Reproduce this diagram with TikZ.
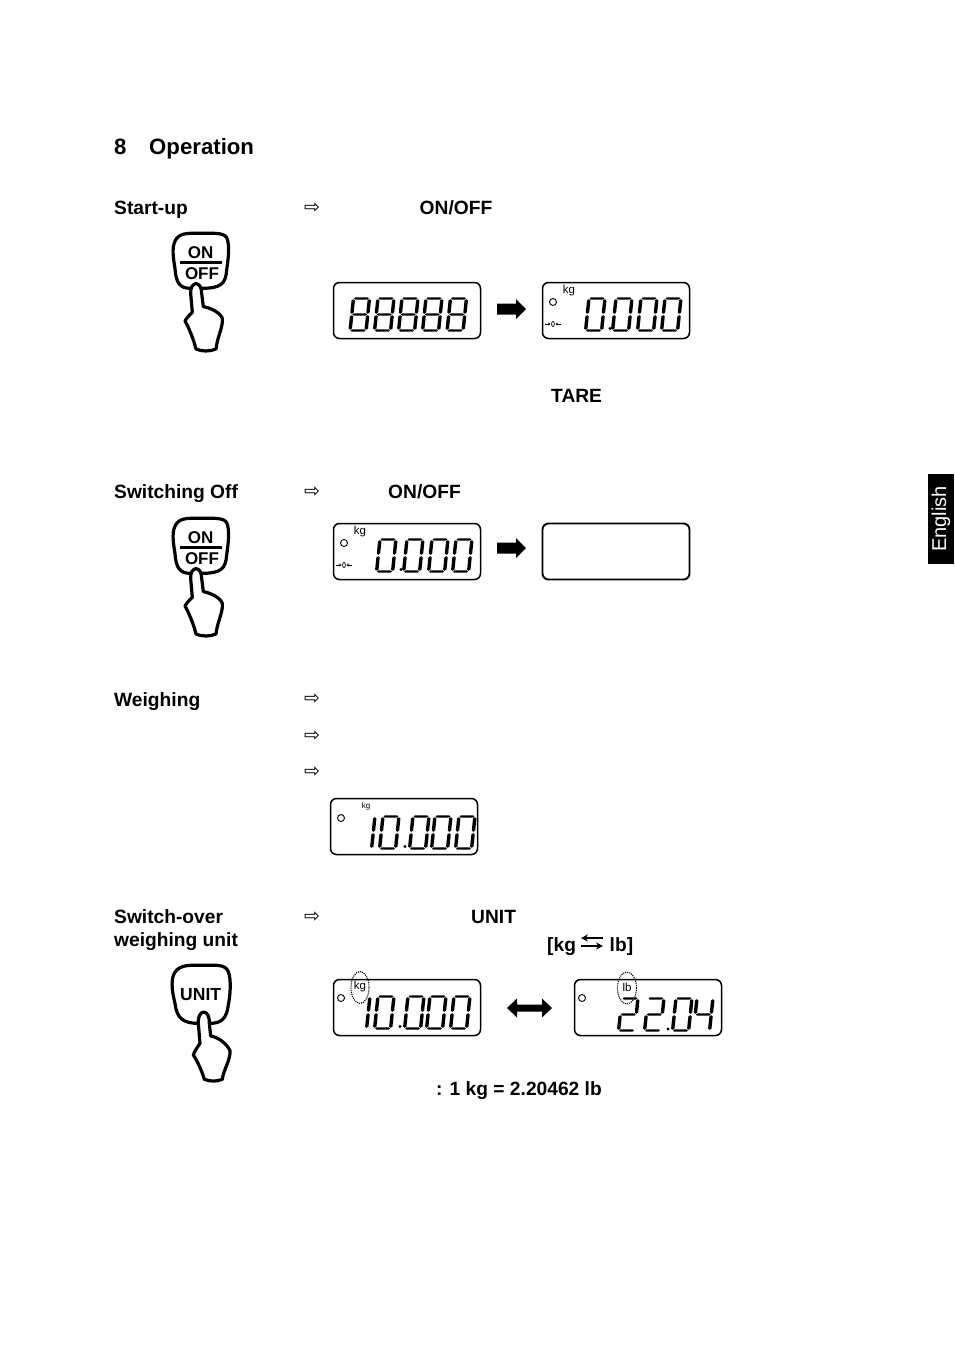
\documentclass[tikz,border=0pt]{standalone}
\usepackage{fontspec}
\setmainfont{Liberation Sans}
\newfontfamily\dejavu{DejaVu Sans}
\usetikzlibrary{shapes.geometric,arrows.meta}
\tikzset{
  x=1pt,y=-1pt,
  lab/.style={anchor=base west,inner sep=0,font=\bfseries\fontsize{19.2}{23}\selectfont},
  head/.style={anchor=base west,inner sep=0,font=\bfseries\fontsize{22.2}{27}\selectfont},
  hollow/.style={anchor=center,inner sep=0,font=\dejavu\fontsize{19}{19}\selectfont},
  lcd/.style={draw=black,line width=1.5pt,rounded corners=6pt,anchor=north west,inner sep=0,outer sep=0,minimum width=147pt,minimum height=56pt},
  unitlab/.style={inner sep=0,font=\fontsize{11.5}{12}\selectfont},
  lamp/.style={draw=black,line width=.9pt,circle,inner sep=0,minimum size=7pt},
  btn/.style={draw=black,line width=3.2pt,line join=round,fill=white},
  keytxt/.style={inner sep=0,font=\bfseries\fontsize{17}{17}\selectfont},
  ring/.style={draw=black,line width=1.1pt,densely dotted,ellipse}
}
\newcommand\vsg[3]{\fill (#1-1.7,#2+1.3)--(#1,#2)--(#1+1.7,#2+1.3)--(#1+1.7,#3-1.3)--(#1,#3)--(#1-1.7,#3-1.3)--cycle;}
\newcommand\hsg[3]{\fill (#2+1.3,#1-1.2)--(#3-1.3,#1-1.2)--(#3,#1)--(#3-1.3,#1+1.2)--(#2+1.3,#1+1.2)--(#2,#1)--cycle;}
\def\sgA{\hsg{0.5}{0.6}{15.4}}
\def\sgB{\vsg{16}{1.2}{15.8}}
\def\sgC{\vsg{16}{17.2}{31.8}}
\def\sgD{\hsg{32.5}{0.6}{15.4}}
\def\sgE{\vsg{0}{17.2}{31.8}}
\def\sgF{\vsg{0}{1.2}{15.8}}
\def\sgG{\hsg{16.5}{0.6}{15.4}}
\def\dZero{\sgA\sgB\sgC\sgD\sgE\sgF}
\def\dEight{\dZero\sgG}
\def\dOne{\sgB\sgC}
\def\dTwo{\sgA\sgB\sgG\sgE\sgD}
\def\dFour{\sgF\sgG\sgB\sgC}
\newcommand\lcddigit[3]{\begin{scope}[shift={(#1,#2)},xslant=.105]#3\end{scope}}
\newcommand\lcddot[2]{\fill (#1,#2) circle (1.6pt);}
\newcommand\zerosym[2]{\begin{scope}[shift={(#1,#2)}]
  \draw[line width=.7pt,-{Stealth[length=2.5pt,width=3pt]}] (-8,0)--(-2.5,0);
  \draw[line width=.7pt,-{Stealth[length=2.5pt,width=3pt]}] (8,0)--(2.5,0);
  \draw[line width=.7pt] (0,0) circle (1.4pt and 2.6pt);
\end{scope}}
\newcommand\zeroreadout[2]{% x of last digit, y
  \lcddigit{#1}{#2}{\dZero}\lcddigit{#1-24}{#2}{\dZero}\lcddigit{#1-49}{#2}{\dZero}\lcddigit{#1-76}{#2}{\dZero}
  \lcddot{#1-55}{#2+30.5}}
\newcommand\tenreadout[2]{% x of last digit, y
  \lcddigit{#1}{#2}{\dZero}\lcddigit{#1-24}{#2}{\dZero}\lcddigit{#1-46}{#2}{\dZero}\lcddigit{#1-76}{#2}{\dZero}
  \lcddigit{#1-100}{#2}{\dOne}\lcddot{#1-54}{#2+30.5}}
\newcommand\blockright[2]{\fill (#1,#2-5.5)--(#1+19,#2-5.5)--(#1+19,#2-10)--(#1+29,#2)--(#1+19,#2+10)--(#1+19,#2+5.5)--(#1,#2+5.5)--cycle;}
\newcommand\onoffhand[3]{\begin{scope}[shift={(#1,#2)},scale=.3333]
  \draw[btn] (92,190) .. controls (60,190) and (48,175) .. (45,130) .. controls (38,90) and (35,60) .. (50,40) .. controls (65,22) and (90,25) .. (125,25) .. controls (160,25) and (190,22) .. (200,38) .. controls (210,60) and (205,100) .. (200,135) .. controls (197,175) and (185,190) .. (125,190);
  \node[keytxt] (#3on) at (122,83) {ON};
  \draw[line width=2.8pt] (60,113)--(185,113);
  \node[keytxt] (#3off) at (126,146) {OFF};
  \draw[btn] (92,205) .. controls (90,168) and (125,165) .. (125,205) -- (130,245) .. controls (150,248) and (180,262) .. (187,280) .. controls (190,305) and (172,335) .. (168,372) .. controls (150,380) and (125,380) .. (108,372) .. controls (100,340) and (85,305) .. (75,288) .. controls (82,275) and (92,268) .. (97,262) -- cycle;
\end{scope}}
\begin{document}
\begin{tikzpicture}
\useasboundingbox[fill=white] (0,0) rectangle (954,1350);
% headings
\node[head] (hn) at (114,154) {8};
\node[head] (hop) at (149,154) {Operation};
\node[lab] (l1) at (114,214) {Start-up};
\node[lab] (l2) at (114,498) {Switching Off};
\node[lab] (l3) at (114,706) {Weighing};
\node[lab] (l4) at (114,923) {Switch-over};
\node[lab] (l5) at (114,946) {weighing unit};
\node[lab] (k1) at (419.5,214) {ON/OFF};
\node[lab] (k2) at (551,402) {TARE};
\node[lab] (k3) at (388,498) {ON/OFF};
\node[lab] (k4) at (471,923) {UNIT};
\node[lab] (k5) at (547,951) {[kg};
\node[lab] (k6) at (609.5,951) {lb]};
\node[lab] (k7) at (436,1095) {: 1 kg = 2.20462 lb};
% kg/lb swap arrows
\draw[line width=1.8pt,-{Stealth[length=7pt,width=7pt]}] (603,938)--(581,938);
\draw[line width=1.8pt,-{Stealth[length=7pt,width=7pt]}] (581,946)--(603,946);
% hollow arrows
\foreach \n/\yy in {a/208,b/492,c/699,d/736,e/772,f/917}
  \node[hollow] (arr\n) at (312,\yy) {⇨};
% hands
\onoffhand{160}{225}{ha}
\onoffhand{160}{510}{hb}
\begin{scope}[shift={(160,960)},scale=.3333]
  \draw[btn] (115,190) .. controls (70,190) and (50,175) .. (45,130) .. controls (35,90) and (30,50) .. (50,30) .. controls (70,12) and (100,16) .. (130,16) .. controls (170,16) and (195,12) .. (205,35) .. controls (215,60) and (210,110) .. (205,135) .. controls (200,175) and (185,190) .. (150,190);
  \node[keytxt,font=\bfseries\fontsize{17.5}{17}\selectfont] (hcu) at (122,103) {UNIT};
  \draw[btn] (115,190) .. controls (112,145) and (150,145) .. (148,190) -- (152,228) .. controls (175,232) and (200,250) .. (210,272) .. controls (212,300) and (190,330) .. (187,358) .. controls (170,365) and (150,365) .. (133,358) .. controls (125,330) and (110,300) .. (100,285) .. controls (105,270) and (115,258) .. (120,250) -- cycle;
\end{scope}
% displays
\node[lcd] (d1) at (333.5,282.5) {};
\node[lcd] (d2) at (542.5,282.5) {};
\node[lcd] (d3) at (333.5,523.5) {};
\node[lcd,line width=1.9pt] (d4) at (542.5,523.5) {};
\node[lcd] (d5) at (330.5,798.5) {};
\node[lcd] (d6) at (333.5,979.5) {};
\node[lcd] (d7) at (574.5,979.5) {};
% block arrows between displays
\blockright{497}{309}
\blockright{497}{548}
\fill (507,1008)--(517,998.5)--(517,1004.5)--(542,1004.5)--(542,998.5)--(552,1008)--(542,1017.5)--(542,1011.5)--(517,1011.5)--(517,1017.5)--cycle;
% display 1
\foreach \xx in {353.5,378,402,426,450.5} {\lcddigit{\xx}{298}{\dEight}}
% display 2
\node[lamp] (o2) at (553,302) {};
\node[unitlab] (u2) at (569,291) {kg};
\zerosym{553}{324}
\zeroreadout{665}{298}
% display 3
\node[lamp] (o3) at (344,543) {};
\node[unitlab] (u3) at (360,532) {kg};
\zerosym{344}{565}
\zeroreadout{456}{539}
% display 5
\node[lamp] (o5) at (341,818) {};
\node[unitlab,font=\fontsize{8}{8}\selectfont] (u5) at (366,806) {kg};
\tenreadout{459}{816}
% display 6
\node[lamp] (o6) at (341,998) {};
\node[unitlab] (u6) at (360,987) {kg};
\tenreadout{454}{996}
\node[ring,minimum width=18pt,minimum height=32pt,inner sep=0] (r6) at (360,987.5) {};
% display 7
\node[lamp] (o7) at (582,998) {};
\node[unitlab] (u7) at (627,987) {lb};
\lcddigit{622}{998}{\dTwo}
\lcddigit{648}{998}{\dTwo}
\lcddot{668}{1029}
\lcddigit{676}{998}{\dZero}
\lcddigit{697}{998}{\dFour}
\node[ring,minimum width=19pt,minimum height=32pt,inner sep=0] (r7) at (627,988) {};
% language tab
\fill[black] (928,474) rectangle (954,564);
\node[rotate=90,inner sep=0,text=white,font=\fontsize{20}{20}\selectfont] (tab) at (941,519) {English};
\end{tikzpicture}
\end{document}
